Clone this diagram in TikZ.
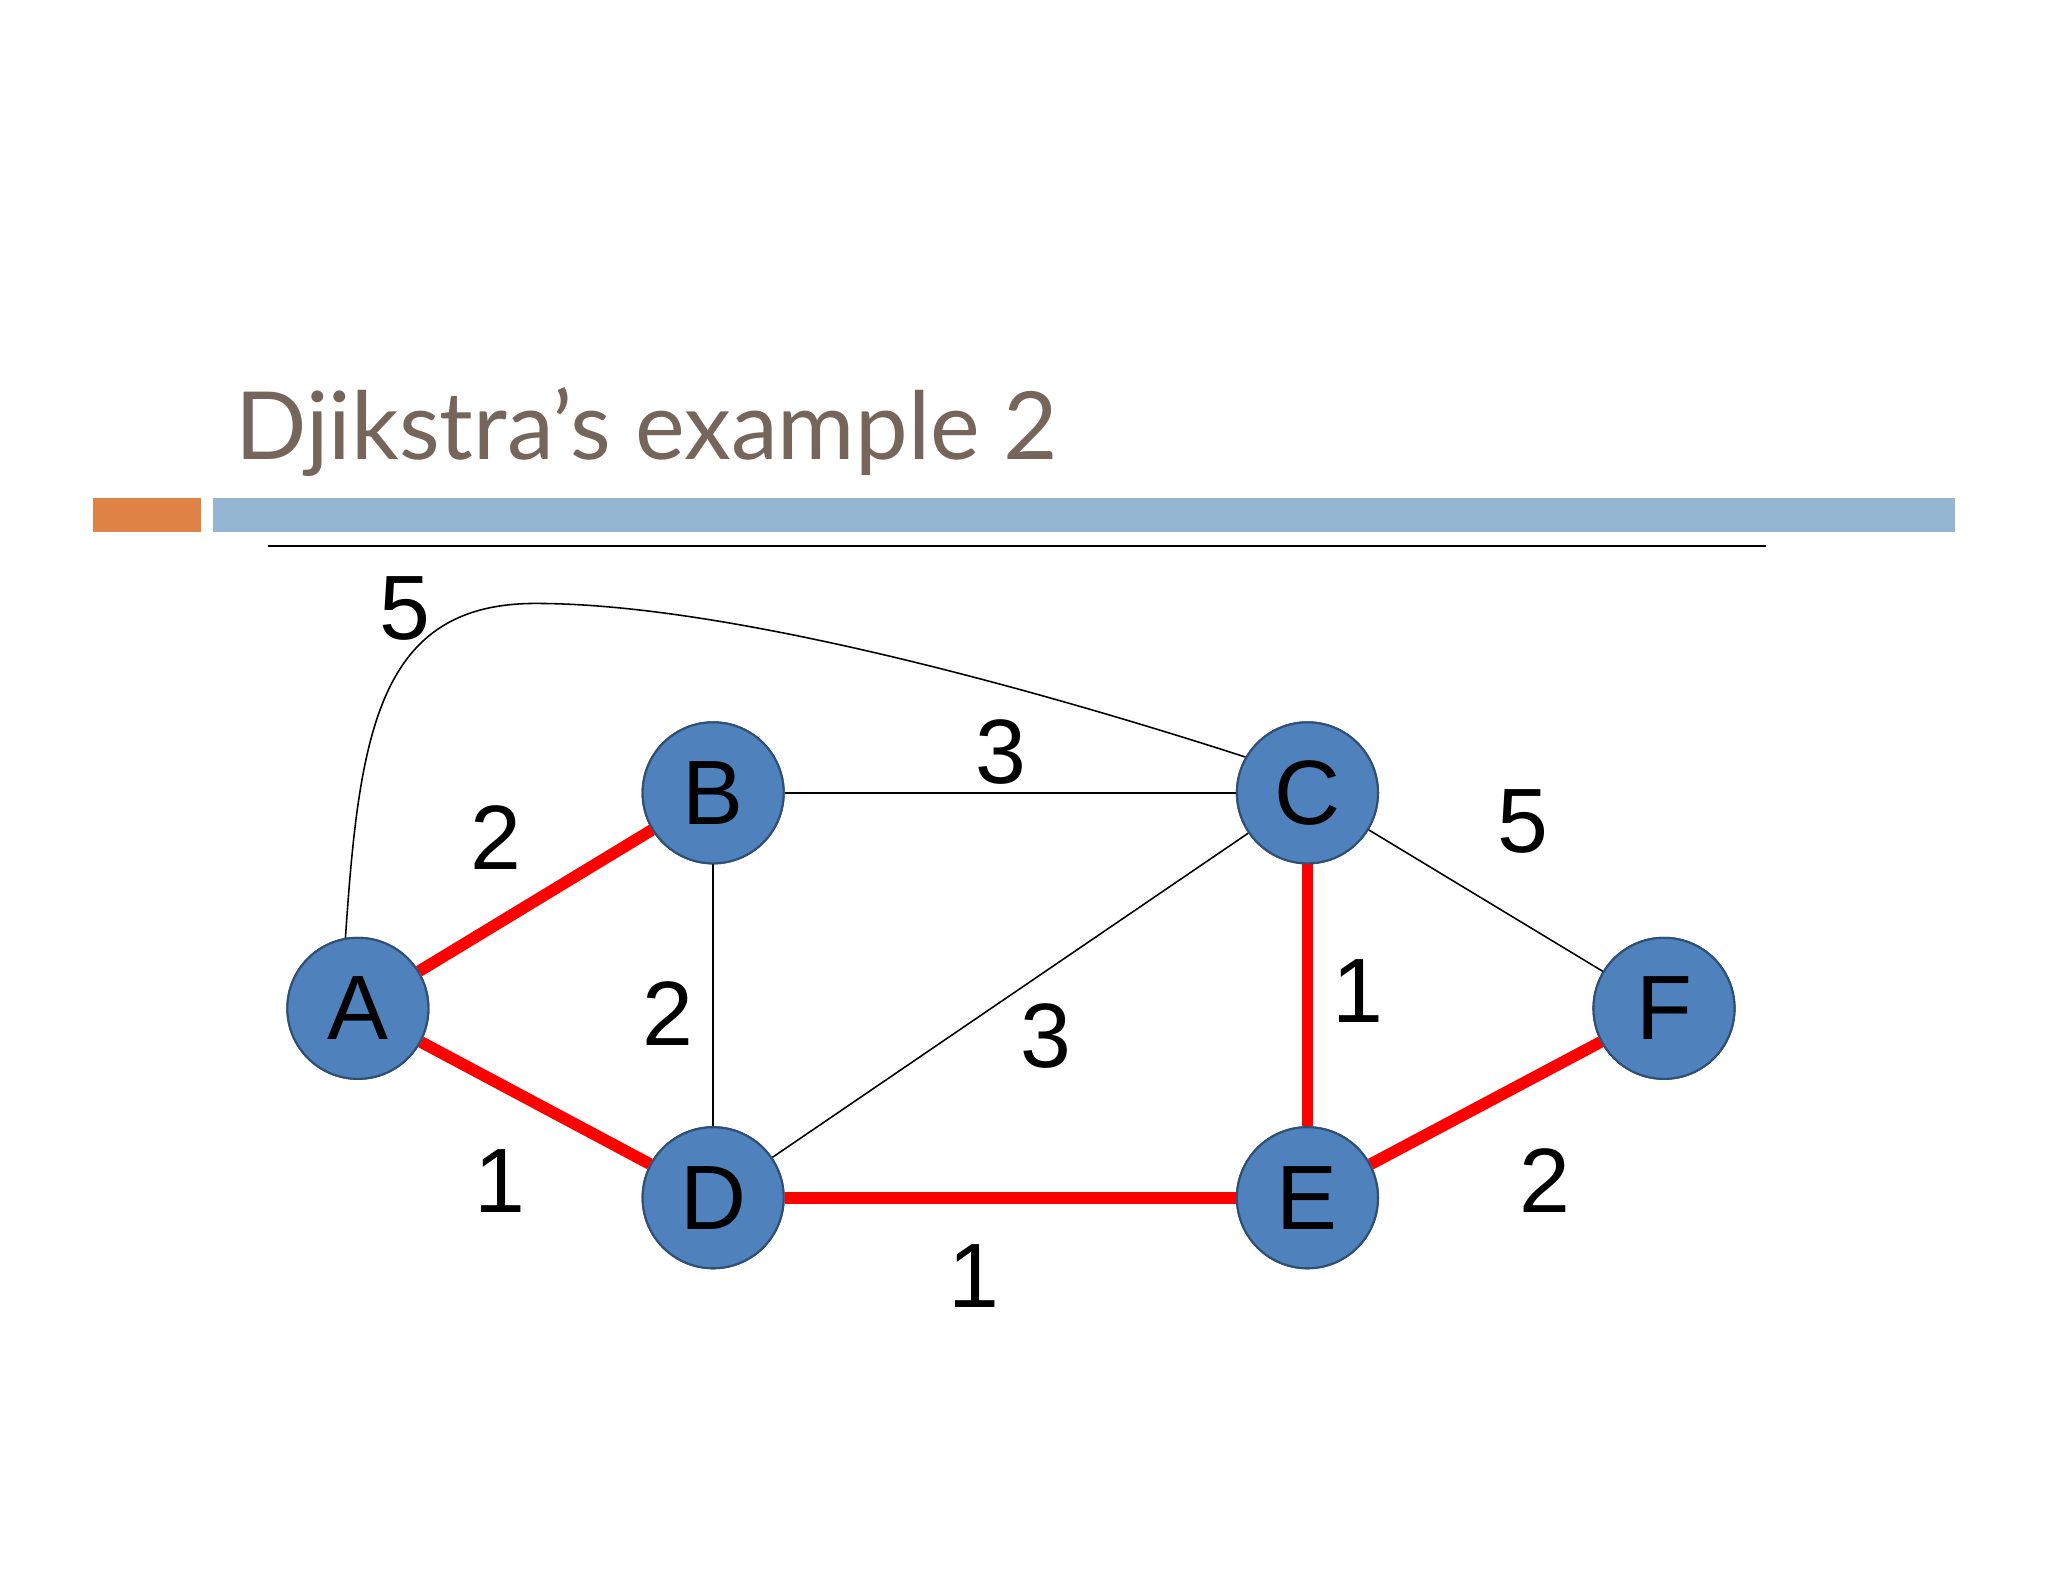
\documentclass[tikz,border=0pt]{standalone}
\usepackage{fontspec}
\setmainfont{Liberation Sans}
\newfontfamily\titlefont{Lato}
\definecolor{nodeblue}{HTML}{4F81BD}
\definecolor{nodeedge}{HTML}{2F4F75}
\definecolor{titlebrown}{HTML}{76655B}
\definecolor{barorange}{HTML}{DF8446}
\definecolor{barblue}{HTML}{94B6D2}
\begin{document}
\begin{tikzpicture}[x=0.5pt,y=-0.5pt,
  vtx/.style={circle,fill=nodeblue,draw=nodeedge,line width=0.8pt,minimum size=54pt,inner sep=0pt,font=\fontsize{35}{40}\selectfont},
  lbl/.style={font=\fontsize{35}{40}\selectfont},
  thin edge/.style={draw=black,line width=0.6pt},
  path edge/.style={draw=red,line width=4.5pt}]
\useasboundingbox (0,0) rectangle (1568,1211);
\node[anchor=base west,text=titlebrown,font=\titlefont\fontsize{36}{40}\selectfont,inner sep=0pt] (title) at (180,352) {Djikstra’s example 2};
\fill[barorange] (71,381) rectangle (154,407);
\fill[barblue] (163,381) rectangle (1497,407);
\draw[line width=0.8pt] (205,418) -- (1352,418);
\node[vtx] (A) at (274,772) {A};
\node[vtx] (B) at (546,607) {B};
\node[vtx] (C) at (1001,607) {C};
\node[vtx] (D) at (546,917) {D};
\node[vtx] (E) at (1001,917) {E};
\node[vtx] (F) at (1274,772) {F};
\begin{scope}[on background layer/.style={}]
\end{scope}
\draw[thin edge] (A.100) .. controls (275,560) and (290,462) .. (410,462) .. controls (560,462) and (800,530) .. (C.150);
\draw[thin edge] (B) -- (C);
\draw[thin edge] (B) -- (D);
\draw[thin edge] (C) -- (D);
\draw[thin edge] (C) -- (F);
\draw[path edge] (A) -- (B);
\draw[path edge] (A) -- (D);
\draw[path edge] (D) -- (E);
\draw[path edge] (C) -- (E);
\draw[path edge] (E) -- (F);
\foreach \n/\t in {A/A,B/B,C/C,D/D,E/E,F/F}{\node[vtx] at (\n) {\t};}
\node[lbl] (l1) at (310,466) {5};
\node[lbl] (l2) at (380,641) {2};
\node[lbl] (l3) at (766,576) {3};
\node[lbl] (l4) at (1166,629) {5};
\node[lbl] (l5) at (511,776) {2};
\node[lbl] (l6) at (801,793) {3};
\node[lbl] (l7) at (1040,759) {1};
\node[lbl] (l8) at (383,904) {1};
\node[lbl] (l9) at (746,977) {1};
\node[lbl] (l10) at (1183,904) {2};
\end{tikzpicture}
\end{document}
